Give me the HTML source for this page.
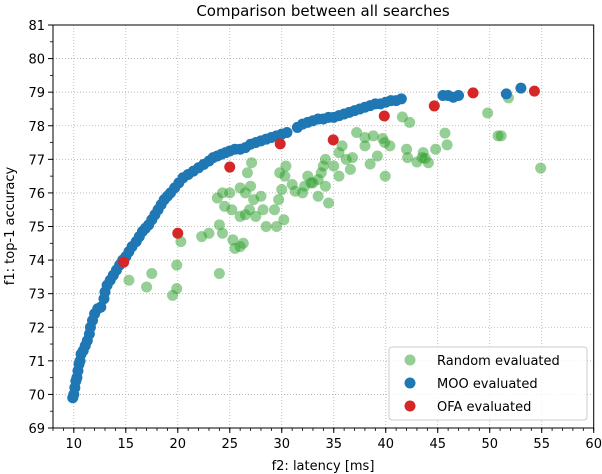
<!DOCTYPE html>
<html><head><meta charset="utf-8"><style>
html,body{margin:0;padding:0;background:#fff;}
svg{display:block;font-family:"DejaVu Sans","Liberation Sans",sans-serif;}
</style></head><body>
<svg id="chart" width="602" height="474" viewBox="0 0 602 474">
<text x="323" y="16" text-anchor="middle" font-size="15">Comparison between all searches</text>
<text x="323" y="470" text-anchor="middle" font-size="13">f2: latency [ms]</text>
<text transform="translate(14,226) rotate(-90)" text-anchor="middle" font-size="13">f1: top-1 accuracy</text>
<g id="grid"></g>
<g id="marks"></g>
<g id="axes"></g>
<g id="legend"></g>
</svg>
<script>
const xTicks=[10,15,20,25,30,35,40,45,50,55,60];
const yTicks=[69,70,71,72,73,74,75,76,77,78,79,80,81];
const randX=[15.3,17.0,17.5,19.5,19.9,19.9,20.3,24.0,22.3,23.0,24.0,24.3,24.5,24.3,23.8,25.3,25.5,26.0,26.3,25.0,25.2,26.0,26.5,26.9,26.0,26.5,27.0,27.3,26.7,27.1,27.5,28.2,28.0,28.5,29.3,29.5,30.2,29.7,30.0,30.3,30.4,29.8,31.0,31.3,32.0,32.2,32.5,32.8,33.0,33.5,33.5,33.8,34.2,34.5,34.2,34.0,35.5,35.0,35.8,35.5,36.2,36.6,36.8,37.2,38.0,38.0,38.8,39.7,39.9,40.4,39.2,38.5,39.95,41.6,42.3,42.0,42.1,43.5,43.8,43.6,44.8,44.1,43.0,45.7,45.9,49.8,50.8,51.1,51.8,54.9];
const randY=[73.4,73.2,73.6,72.95,73.15,73.85,74.55,73.6,74.7,74.8,75.05,74.8,75.6,76.0,75.85,74.6,74.35,74.4,74.5,76.0,75.5,75.3,75.35,75.5,76.15,76.0,76.2,75.8,76.6,76.9,75.3,75.5,75.9,75.0,75.5,75.0,75.2,75.8,76.1,76.5,76.8,76.6,76.25,76.05,76.0,76.2,76.5,76.3,76.3,75.9,76.4,76.6,76.2,75.7,77.0,76.8,76.5,76.8,77.4,77.2,77.0,76.7,77.05,77.8,77.4,77.65,77.7,77.62,77.5,77.4,77.1,76.86,76.5,78.26,78.1,77.3,77.05,77.05,77.03,77.2,77.3,76.9,76.92,77.78,77.43,78.38,77.7,77.7,78.83,76.74];
const mooX=[9.9,10.0,10.1,10.2,10.3,10.4,10.5,10.6,10.7,10.9,11.1,11.3,11.5,11.6,11.8,12.0,12.3,12.6,12.9,13.0,13.2,13.5,13.8,14.1,14.4,14.7,15.0,15.3,15.6,16.0,16.3,16.6,16.9,17.2,17.5,17.8,18.1,18.4,18.7,19.0,19.3,19.7,20.1,20.5,21.0,21.5,22.0,22.5,23.0,23.4,23.8,24.2,24.6,25.0,25.5,26.0,26.5,27.0,27.5,28.0,28.5,29.0,29.5,30.0,30.5,31.5,32.0,32.5,33.0,33.5,34.0,34.5,35.0,35.5,36.0,36.5,37.0,37.5,38.0,38.5,39.0,39.5,40.0,40.5,41.0,41.5,45.5,46.0,46.5,47.0,51.6,53.0];
const mooY=[69.9,70.0,70.2,70.4,70.5,70.7,70.9,71.0,71.2,71.3,71.45,71.6,71.8,72.0,72.2,72.4,72.55,72.6,72.85,73.05,73.25,73.4,73.55,73.7,73.85,74.0,74.1,74.25,74.4,74.55,74.7,74.85,74.95,75.05,75.2,75.35,75.5,75.65,75.8,75.9,76.0,76.15,76.3,76.45,76.55,76.65,76.75,76.85,76.95,77.05,77.1,77.15,77.2,77.25,77.3,77.3,77.35,77.45,77.5,77.55,77.6,77.65,77.7,77.75,77.8,77.95,78.05,78.1,78.15,78.2,78.2,78.25,78.25,78.3,78.35,78.4,78.45,78.5,78.55,78.6,78.65,78.65,78.7,78.75,78.75,78.8,78.9,78.9,78.85,78.9,78.95,79.12];
const ofaX=[14.8,20.0,25.0,29.85,34.95,39.86,44.67,48.4,54.3];
const ofaY=[73.94,74.8,76.77,77.46,77.58,78.29,78.59,78.98,79.03];

const NS="http://www.w3.org/2000/svg";
const L=53,R=593.7,T=25,B=428,XMIN=8,XMAX=60,YMIN=69,YMAX=81;
function sx(v){return L+(v-XMIN)/(XMAX-XMIN)*(R-L);}
function sy(v){return B-(v-YMIN)/(YMAX-YMIN)*(B-T);}
function mk(tag,attrs,parent){const e=document.createElementNS(NS,tag);for(const k in attrs)e.setAttribute(k,attrs[k]);parent.appendChild(e);return e;}
const grid=document.getElementById('grid'),marks=document.getElementById('marks'),axes=document.getElementById('axes'),leg=document.getElementById('legend');
xTicks.forEach(t=>{
  const g=mk('line',{x1:sx(t),x2:sx(t),y1:T,y2:B,stroke:'#b0b0b0','stroke-width':0.8,'stroke-dasharray':'1,2'},grid);
  
  
  mk('line',{x1:sx(t),x2:sx(t),y1:B,y2:B+5,stroke:'#000','stroke-width':1},axes);
  const tx=mk('text',{x:sx(t),y:B+20,'text-anchor':'middle','font-size':13},axes);
  tx.textContent=t;
  
  
});
for(let v=XMIN;v<=XMAX;v++){mk('line',{x1:sx(v),x2:sx(v),y1:B,y2:B+3,stroke:'#000','stroke-width':0.8},axes);}
yTicks.forEach(t=>{
  if(t>YMIN&&t<YMAX){const g=mk('line',{x1:L,x2:R,y1:sy(t),y2:sy(t),stroke:'#b0b0b0','stroke-width':0.8,'stroke-dasharray':'1,2'},grid);
  
  }
  mk('line',{x1:L-5,x2:L,y1:sy(t),y2:sy(t),stroke:'#000','stroke-width':1},axes);
  const tx=mk('text',{x:L-8,y:sy(t)+5,'text-anchor':'end','font-size':13},axes);
  tx.textContent=t;
  
  
});
for(let v=YMIN+0.5;v<YMAX;v+=1){mk('line',{x1:L-3,x2:L,y1:sy(v),y2:sy(v),stroke:'#000','stroke-width':0.8},axes);}
mk('rect',{x:L,y:T,width:R-L,height:B-T,fill:'none',stroke:'#000','stroke-width':1},axes);
function series(xs,ys,fill,op,name){xs.forEach((x,i)=>{
  const c=mk('circle',{cx:sx(x),cy:sy(ys[i]),r:5.5,fill:fill,'fill-opacity':op},marks);
  
  
});}
series(randX,randY,'#2ca02c',0.5,'random-point');
series(mooX,mooY,'#1f77b4',1,'moo-point');
series(ofaX,ofaY,'#d62728',1,'ofa-point');
mk('rect',{x:389,y:347,width:198,height:73,rx:3,fill:'#fff','fill-opacity':0.8,stroke:'#ccc'},leg);
[['Random evaluated','#2ca02c',0.5],['MOO evaluated','#1f77b4',1],['OFA evaluated','#d62728',1]].forEach((d,i)=>{
  const y=360+i*23;
  const g=mk('g',{},leg);
  
  
  mk('circle',{cx:410,cy:y,r:5.5,fill:d[1],'fill-opacity':d[2]},g);
  const t=mk('text',{x:437,y:y+5,'font-size':13},g);t.textContent=d[0];
});
</script>
</body></html>
